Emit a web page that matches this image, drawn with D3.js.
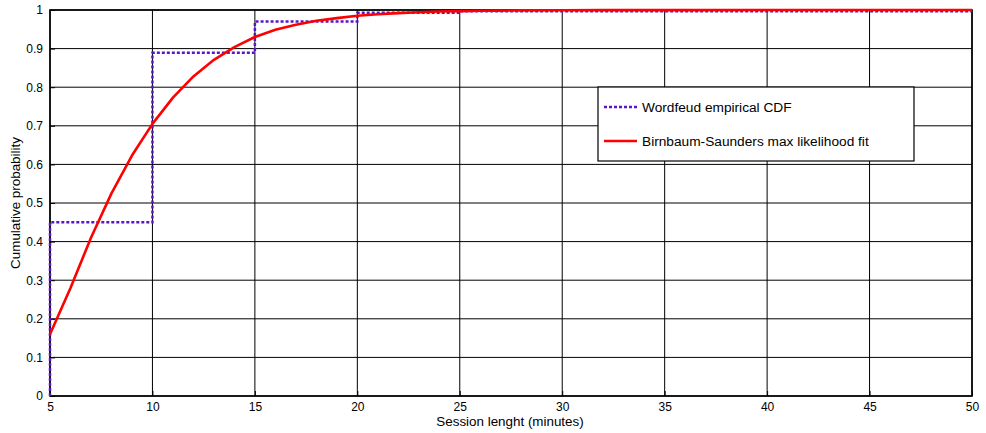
<!DOCTYPE html>
<html>
<head>
<meta charset="utf-8">
<script src="https://cdn.jsdelivr.net/npm/d3@7/dist/d3.min.js"></script>
<style>
  html, body { margin: 0; padding: 0; background: #fff; }
  svg { display: block; font-family: "Liberation Sans", Arial, sans-serif; }
</style>
</head>
<body>
<svg id="chart" width="986" height="433"></svg>
<script>
// Session length axis ticks (minutes) and probability ticks
const xTicks = [5, 10, 15, 20, 25, 30, 35, 40, 45, 50];
const yTicks = [0, 0.1, 0.2, 0.3, 0.4, 0.5, 0.6, 0.7, 0.8, 0.9, 1];

// Empirical CDF: step positions and levels
const ecdfX = [5, 5, 10, 10, 15, 15, 20, 20, 25, 25, 50];
const ecdfY = [0, 0.45, 0.45, 0.889, 0.889, 0.97, 0.97, 0.993, 0.993, 0.997, 0.997];

// Birnbaum-Saunders fitted CDF, sampled each minute
const fitX = [5, 6, 7, 8, 9, 10, 11, 12, 13, 14, 15, 16, 17, 18, 19, 20,
              21, 22, 23, 24, 25, 26, 27, 28, 30, 32, 35, 40, 45, 50];
const fitY = [0.16, 0.28, 0.41, 0.525, 0.623, 0.705, 0.773, 0.828, 0.871, 0.904, 0.93, 0.949, 0.962, 0.972, 0.979, 0.985,
              0.989, 0.992, 0.994, 0.996, 0.997, 0.998, 0.9985, 0.999, 0.9993, 0.9996, 0.9998, 1, 1, 1];

const seriesNames = ["Wordfeud empirical CDF", "Birnbaum-Saunders max likelihood fit"];
const seriesColors = ["#5b16c8", "#ff0000"];

const svg = d3.select("#chart");
const plotL = 50, plotR = 972, plotT = 10, plotB = 396;

const x = d3.scaleLinear().domain([5, 50]).range([plotL, plotR]);
const y = d3.scaleLinear().domain([0, 1]).range([plotB, plotT]);

// grid
const grid = svg.append("g");
grid.selectAll("line.vx").data(xTicks).join("line")
  .attr("x1", d => x(d)).attr("x2", d => x(d))
  .attr("y1", plotT).attr("y2", plotB)
  .attr("stroke", "#000").attr("stroke-width", 1);
grid.selectAll("line.hy").data(yTicks).join("line")
  .attr("x1", plotL).attr("x2", plotR)
  .attr("y1", d => y(d)).attr("y2", d => y(d))
  .attr("stroke", "#000").attr("stroke-width", 1);

// axes with inward ticks
const xAxis = d3.axisBottom(x).tickValues(xTicks).tickSize(-5).tickPadding(6)
  .tickFormat(d3.format("d"));
const gx = svg.append("g").attr("transform", `translate(0,${plotB})`).call(xAxis);
const yAxis = d3.axisLeft(y).tickValues(yTicks).tickSize(-5).tickPadding(7)
  .tickFormat(d => d === 0 || d === 1 ? String(d) : d3.format(".1f")(d));
const gy = svg.append("g").attr("transform", `translate(${plotL},0)`).call(yAxis);
[gx, gy].forEach(g => {
  g.select(".domain").remove();
  g.selectAll(".tick line").attr("stroke", "#000").attr("stroke-width", 1);
  g.selectAll(".tick text").attr("fill", "#000").style("font-size", "12px")
    .style("font-family", "'Liberation Sans', Arial, sans-serif");
});

// frame
svg.append("rect").attr("x", plotL).attr("y", plotT)
  .attr("width", plotR - plotL).attr("height", plotB - plotT)
  .attr("fill", "none").attr("stroke", "#000").attr("stroke-width", 1.6);

// series
const ecdf = ecdfX.map((v, i) => [v, ecdfY[i]]);
const fit = fitX.map((v, i) => [v, fitY[i]]);
const line = d3.line().x(d => x(d[0])).y(d => y(d[1]));

svg.append("path").datum(ecdf).attr("d", line)
  .attr("fill", "none").attr("stroke", seriesColors[0])
  .attr("stroke-width", 2.5).attr("stroke-dasharray", "3,2");
svg.append("path").datum(fit).attr("d", line)
  .attr("fill", "none").attr("stroke", seriesColors[1])
  .attr("stroke-width", 2.6).attr("stroke-linejoin", "round");

// axis titles
svg.append("text").attr("x", 510).attr("y", 426)
  .attr("text-anchor", "middle").style("font-size", "13.4px").text("Session lenght (minutes)");
svg.append("text").attr("transform", `translate(20,${(plotT + plotB) / 2}) rotate(-90)`)
  .attr("text-anchor", "middle").style("font-size", "13.4px").text("Cumulative probability");

// legend
const lg = svg.append("g");
lg.append("rect").attr("x", 598).attr("y", 87).attr("width", 316).attr("height", 74)
  .attr("fill", "#fff").attr("stroke", "#000").attr("stroke-width", 1.2);
const rows = [107, 141];
seriesNames.forEach((name, i) => {
  lg.append("line").attr("x1", 604).attr("x2", 637).attr("y1", rows[i]).attr("y2", rows[i])
    .attr("stroke", seriesColors[i]).attr("stroke-width", 2.5)
    .attr("stroke-dasharray", i === 0 ? "3,2" : null);
  lg.append("text").attr("x", 642).attr("y", rows[i]).attr("dy", "0.35em")
    .style("font-size", "13.7px").text(name);
});
</script>
</body>
</html>
